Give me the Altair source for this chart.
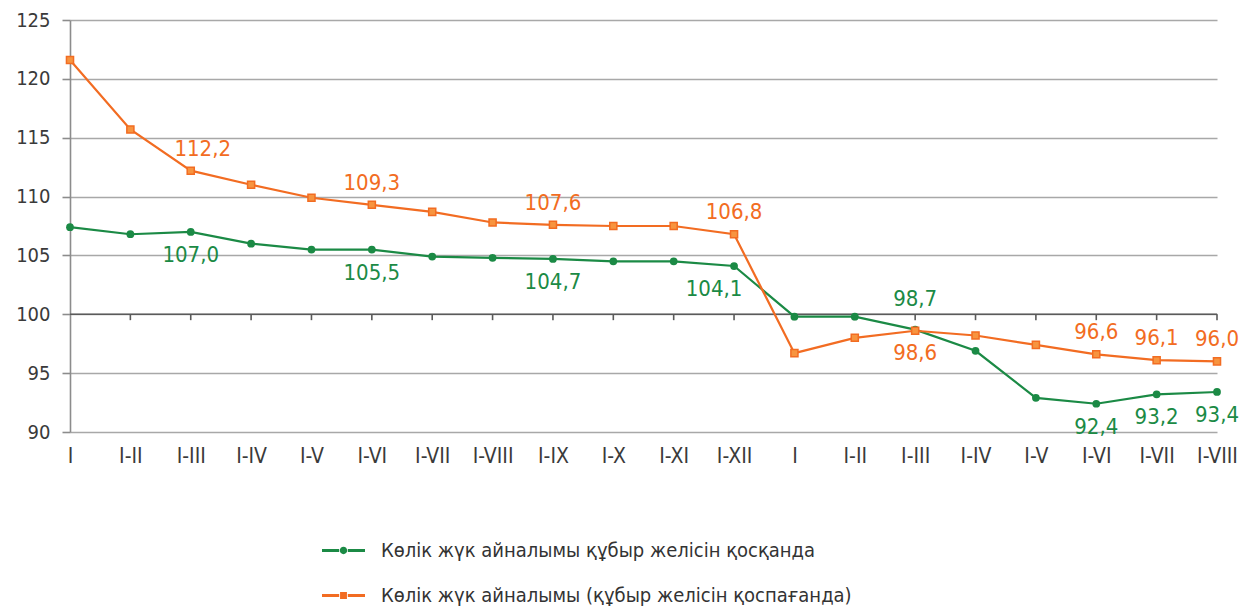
import altair as alt
import pandas as pd

categories = ["I", "I-II", "I-III", "I-IV", "I-V", "I-VI", "I-VII", "I-VIII", "I-IX", "I-X",
              "I-XI", "I-XII", "I", "I-II", "I-III", "I-IV", "I-V", "I-VI", "I-VII", "I-VIII"]
green_name = "Көлік жүк айналымы құбыр желісін қосқанда"
orange_name = "Көлік жүк айналымы (құбыр желісін қоспағанда)"
green_values = [107.4, 106.8, 107.0, 106.0, 105.5, 105.5, 104.9, 104.8, 104.7, 104.5,
                104.5, 104.1, 99.8, 99.8, 98.7, 96.9, 92.9, 92.4, 93.2, 93.4]
orange_values = [121.6, 115.7, 112.2, 111.0, 109.9, 109.3, 108.7, 107.8, 107.6, 107.5,
                 107.5, 106.8, 96.7, 98.0, 98.6, 98.2, 97.4, 96.6, 96.1, 96.0]
green_labels_above = [14]
green_labels_below = [2, 5, 8, 11, 17, 18, 19]
orange_labels_above = [2, 5, 8, 11, 17, 18, 19]
orange_labels_below = [14]
y_ticks = [90, 95, 100, 105, 110, 115, 120, 125]

GREEN = "#1b8a45"
ORANGE = "#f26c22"
ORANGE_FILL = "#f7943f"
FONT = "DejaVu Sans Condensed, sans-serif"

idx = list(range(len(categories)))
green_df = pd.DataFrame({"i": idx, "v": green_values, "series": green_name})
orange_df = pd.DataFrame({"i": idx, "v": orange_values, "series": orange_name})

def fmt(v):
    return f"{v:.1f}".replace(".", ",")

lab_rows = []
for i in green_labels_above:
    lab_rows.append({"i": i, "v": green_values[i], "t": fmt(green_values[i]), "s": "g", "side": "above"})
for i in green_labels_below:
    lab_rows.append({"i": i, "v": green_values[i], "t": fmt(green_values[i]), "s": "g", "side": "below"})
for i in orange_labels_above:
    lab_rows.append({"i": i, "v": orange_values[i], "t": fmt(orange_values[i]), "s": "o", "side": "above"})
for i in orange_labels_below:
    lab_rows.append({"i": i, "v": orange_values[i], "t": fmt(orange_values[i]), "s": "o", "side": "below"})
lab_df = pd.DataFrame(lab_rows)

label_array = "[" + ",".join(f"'{c}'" for c in categories) + "]"

x_scale = alt.Scale(domain=[0, len(categories) - 1], nice=False, zero=False)
y_scale = alt.Scale(domain=[90, 125], nice=False, zero=False)

x_axis = alt.Axis(values=idx, labelExpr=f"{label_array}[datum.value]", title=None,
                  grid=False, domain=False, ticks=False, tickSize=0, labelPadding=13,
                  labelOverlap=False, labelFont=FONT, labelFontSize=21, labelColor="#3a3a3a",
                  labelAngle=0, labelFlush=False)
y_axis = alt.Axis(values=y_ticks, title=None, grid=True, gridColor="#a8a8a8", gridWidth=1.6,
                  domain=True, domainColor="#8c8c8c", domainWidth=1.6, ticks=True, tickColor="#8c8c8c",
                  tickSize=8, tickWidth=1.6, labelPadding=12, labelFont=FONT, labelFontSize=20,
                  labelColor="#3a3a3a", labelOverlap=False, labelFlush=False)

X = alt.X("i:Q", scale=x_scale, axis=x_axis)
Y = alt.Y("v:Q", scale=y_scale, axis=y_axis)

axis_df = pd.DataFrame({"i": idx[1:], "v": [100] * (len(idx) - 1), "v2": [99.5] * (len(idx) - 1)})
axis_line = alt.Chart(pd.DataFrame({"i": [0], "i2": [len(idx) - 1], "v": [100]})).mark_rule(
    color="#5a5a5a", strokeWidth=1.6).encode(x=X, x2="i2:Q", y=Y)
axis_ticks = alt.Chart(axis_df).mark_rule(color="#5a5a5a", strokeWidth=1.6).encode(
    x="i:Q", y="v:Q", y2="v2:Q")

green_line = alt.Chart(green_df).mark_line(color=GREEN, strokeWidth=2.2).encode(x="i:Q", y="v:Q")
orange_line = alt.Chart(orange_df).mark_line(color=ORANGE, strokeWidth=2.2).encode(x="i:Q", y="v:Q")
green_pts = alt.Chart(green_df).mark_point(shape="circle", filled=True, color=GREEN, size=60,
                                            opacity=1).encode(x="i:Q", y="v:Q")
orange_pts = alt.Chart(orange_df).mark_point(shape="square", filled=True, fill=ORANGE_FILL,
                                              stroke=ORANGE, strokeWidth=1.5, size=50,
                                              opacity=1).encode(x="i:Q", y="v:Q")

# small horizontal nudges seen in the reference for two labels
nudged = {("g", 11): -20, ("o", 2): 12}

def labels(series, side, color, dy):
    base = (alt.datum.s == series) & (alt.datum.side == side)
    layers = []
    keep = base
    for (s, i), dx in nudged.items():
        if s == series:
            keep = keep & (alt.datum.i != i)
            layers.append(alt.Chart(lab_df).transform_filter(base & (alt.datum.i == i)).mark_text(
                font=FONT, fontSize=22, color=color, dy=dy, dx=dx, align="center", baseline="middle"
            ).encode(x="i:Q", y="v:Q", text="t:N"))
    layers.append(alt.Chart(lab_df).transform_filter(keep).mark_text(
        font=FONT, fontSize=22, color=color, dy=dy, align="center", baseline="middle"
    ).encode(x="i:Q", y="v:Q", text="t:N"))
    return layers

lab_layers = (labels("g", "above", GREEN, -31) + labels("g", "below", GREEN, 23)
              + labels("o", "above", ORANGE, -22) + labels("o", "below", ORANGE, 22))

green_sym = ("M-1,-0.07L-0.2,-0.07L-0.2,0.07L-1,0.07Z "
             "M0.2,-0.07L1,-0.07L1,0.07L0.2,0.07Z "
             "M-0.17,0A0.17,0.17 0 1,0 0.17,0A0.17,0.17 0 1,0 -0.17,0Z")
orange_sym = ("M-1,-0.07L-0.2,-0.07L-0.2,0.07L-1,0.07Z "
              "M0.2,-0.07L1,-0.07L1,0.07L0.2,0.07Z "
              "M-0.16,-0.16L0.16,-0.16L0.16,0.16L-0.16,0.16Z")

leg = alt.Legend(title=None, orient="none", legendX=252, legendY=509,
                 direction="vertical", symbolSize=1849, symbolStrokeWidth=0,
                 labelFont=FONT, labelFontSize=20, labelColor="#333333",
                 labelOffset=16, rowPadding=13, padding=0, labelLimit=800)

legend_df = pd.DataFrame({"i": [0, 0], "v": [100, 100], "series": [green_name, orange_name]})
legend_layer = alt.Chart(legend_df).transform_filter("false").mark_point(filled=True, opacity=1).encode(
    x="i:Q", y="v:Q",
    color=alt.Color("series:N", scale=alt.Scale(domain=[green_name, orange_name], range=[GREEN, ORANGE]),
                    legend=leg),
    shape=alt.Shape("series:N", scale=alt.Scale(domain=[green_name, orange_name], range=[green_sym, orange_sym]),
                    legend=leg),
)

chart = alt.layer(
    axis_line, axis_ticks, green_line, orange_line, green_pts, orange_pts, *lab_layers, legend_layer
).properties(
    width=1147, height=412,
    autosize=alt.AutoSizeParams(type="none"),
    padding={"left": 62, "top": 12, "right": 25, "bottom": 176},
).configure_view(stroke=None)

chart.save("out.html", embed_options={"renderer": "svg", "actions": False})
